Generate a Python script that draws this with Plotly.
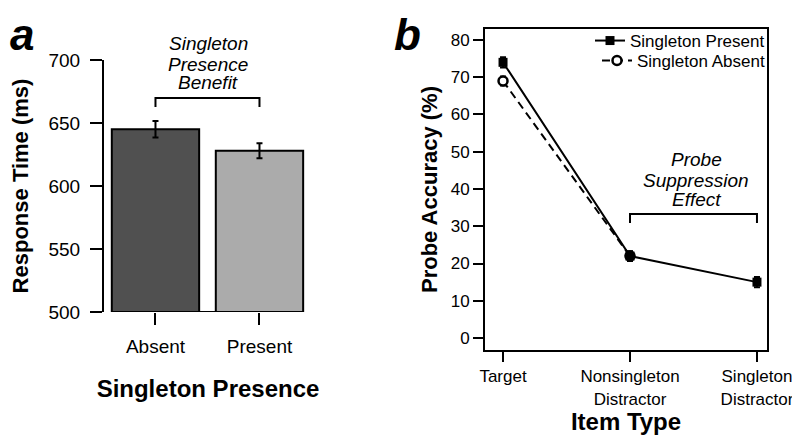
import plotly.graph_objects as go

FONT = "Liberation Sans"

# panel a: response time by singleton presence
presence = ["Absent", "Present"]
rt_mean = [645, 628]
rt_err = [6.5, 6]
bar_colors = ["#505050", "#ababab"]

# panel b: probe accuracy by item type
item_pos = [1, 2, 3]
item_labels = ["Target", "Nonsingleton<br>Distractor", "Singleton<br>Distractor"]
acc_present = [74, 22, 15]
acc_present_err = [1.4, 1.3, 1.4]
acc_absent = [69, 22]
acc_absent_err = [1.2, 1.2]

# the page body has an 8px margin, so the figure is drawn 8px in from the corner
PAD = 8
W, H = 800 - PAD, 435 - PAD


def px_x(p):
    return (p - PAD) / W


def px_y(p):
    return 1 - (p - PAD) / H


fig = go.Figure()

fig.add_trace(go.Bar(
    x=presence, y=[v - 500 for v in rt_mean], base=500,
    width=0.84,
    marker=dict(color=bar_colors, line=dict(color="black", width=2)),
    error_y=dict(type="data", array=rt_err, color="black", thickness=2, width=3),
    showlegend=False, xaxis="x", yaxis="y",
))

fig.add_trace(go.Scatter(
    x=item_pos[:2], y=acc_absent, name="Singleton Absent",
    mode="lines+markers",
    line=dict(color="black", width=2, dash="8px,5px"),
    marker=dict(symbol="circle", size=9, color="white", line=dict(width=2.5, color="black")),
    error_y=dict(type="data", array=acc_absent_err, color="black", thickness=2, width=3),
    xaxis="x2", yaxis="y2", legend="legend2",
))
fig.add_trace(go.Scatter(
    x=item_pos, y=acc_present, name="Singleton Present",
    mode="lines+markers",
    line=dict(color="black", width=2),
    marker=dict(symbol="square", size=9, color="black"),
    error_y=dict(type="data", array=acc_present_err, color="black", thickness=2, width=3),
    xaxis="x2", yaxis="y2", legend="legend",
))

axis_common = dict(
    showgrid=False, zeroline=False, ticks="outside", tickwidth=2,
    tickcolor="black", linecolor="black", linewidth=2, automargin=False,
)
legend_common = dict(
    x=px_x(770), xanchor="right", yanchor="middle",
    bgcolor="rgba(0,0,0,0)", font=dict(size=17), itemwidth=30,
)

fig.update_layout(
    width=W, height=H,
    margin=dict(l=0, r=0, t=0, b=0),
    plot_bgcolor="white", paper_bgcolor="white",
    font=dict(family=FONT, color="black"),
    xaxis=dict(
        axis_common, domain=[px_x(104), px_x(312)], range=[-0.495, 1.505],
        anchor="y", showline=False, ticklen=12, tickfont=dict(size=19),
        ticklabelstandoff=5,
        title=dict(text="Singleton Presence", font=dict(size=24, weight="bold"), standoff=24),
    ),
    yaxis=dict(
        axis_common, domain=[px_y(312), px_y(60)], range=[500, 700],
        anchor="x", showline=True, ticklen=12, tickvals=[500, 550, 600, 650, 700],
        tickfont=dict(size=19), ticklabelstandoff=6,
        title=dict(text="Response Time (ms)", font=dict(size=22, weight="bold"), standoff=14),
    ),
    xaxis2=dict(
        axis_common, domain=[px_x(485), px_x(767)], range=[0.858, 3.079],
        anchor="y2", showline=True, mirror=True, ticklen=10,
        tickvals=item_pos, ticktext=item_labels, tickfont=dict(size=17),
        title=dict(text="Item Type", font=dict(size=24, weight="bold"), standoff=2),
    ),
    yaxis2=dict(
        axis_common, domain=[px_y(350), px_y(29)], range=[-3.22, 82.95],
        anchor="x2", showline=True, mirror=True, ticklen=10,
        tickvals=list(range(0, 81, 10)), tickfont=dict(size=17),
        title=dict(text="Probe Accuracy (%)", font=dict(size=22, weight="bold"), standoff=7),
    ),
    legend=dict(legend_common, y=px_y(41)),
    legend2=dict(legend_common, y=px_y(61)),
)

# x axis line of panel a spans only between the ticks
fig.add_shape(type="line", xref="x", yref="y", x0=0, x1=1, y0=500, y1=500,
              line=dict(color="black", width=2))
# brackets
fig.add_shape(type="path", xref="x", yref="y",
              path="M 0,662.7 L 0,669.8 L 1,669.8 L 1,662.7",
              line=dict(color="black", width=2))
fig.add_shape(type="path", xref="x2", yref="y2",
              path="M 2,30.9 L 2,33.3 L 3,33.3 L 3,30.9",
              line=dict(color="black", width=2))

a_mid = px_x((104 + 312) / 2)
for txt, py in zip(["Singleton", "Presence", "Benefit"], [44, 64, 83]):
    fig.add_annotation(x=a_mid, y=px_y(py), xref="paper", yref="paper", text=txt,
                       showarrow=False, font=dict(size=19, style="italic"),
                       xanchor="center", yanchor="middle")
for txt, yv in zip(["Probe", "Suppression", "Effect"], [47.8, 42.4, 37.3]):
    fig.add_annotation(x=2.52, y=yv, xref="x2", yref="y2", text=txt, showarrow=False,
                       font=dict(size=19, style="italic"),
                       xanchor="center", yanchor="middle")

for lab, xp in [("a", PAD), ("b", 392)]:
    fig.add_annotation(x=px_x(xp), y=1, xref="paper", yref="paper", text=lab,
                       showarrow=False, xanchor="left", yanchor="top",
                       font=dict(size=44, weight="bold", style="italic"))

fig.write_html("out.html")
